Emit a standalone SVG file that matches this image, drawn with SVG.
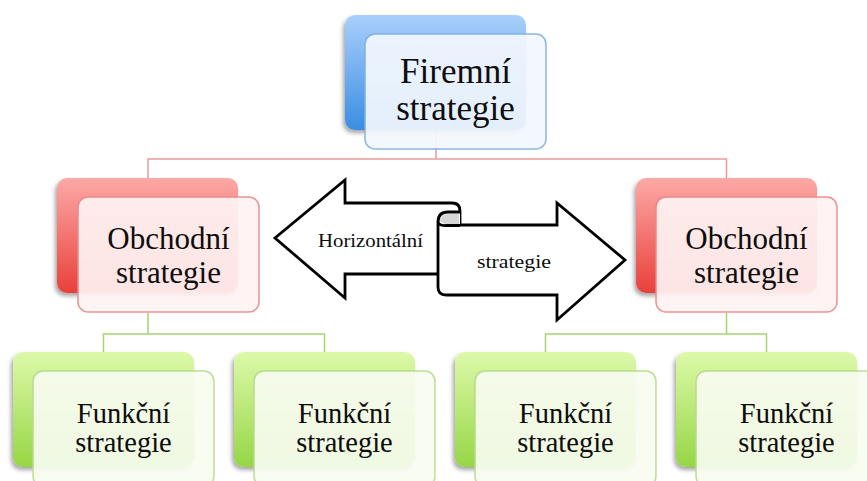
<svg xmlns="http://www.w3.org/2000/svg" width="867" height="481" viewBox="0 0 867 481">
<defs>
<linearGradient id="gBlue" x1="0" y1="0" x2="0" y2="1"><stop offset="0" stop-color="#a9cffc"/><stop offset="1" stop-color="#3b8de3"/></linearGradient>
<linearGradient id="gRed" x1="0" y1="0" x2="0" y2="1"><stop offset="0" stop-color="#fda9a7"/><stop offset="1" stop-color="#e9403a"/></linearGradient>
<linearGradient id="gGreen" x1="0" y1="0" x2="0" y2="1"><stop offset="0" stop-color="#ddf9a9"/><stop offset="1" stop-color="#96d645"/></linearGradient>
<filter id="sh" x="-20%" y="-20%" width="140%" height="140%"><feDropShadow dx="-2" dy="3" stdDeviation="2" flood-color="#000" flood-opacity="0.35"/></filter>
</defs>
<style>
.back{filter:url(#sh)}
.front{stroke-width:1.5;opacity:0.92}
.fb{fill:#f3f8fe;stroke:#80b0e2}
.fr{fill:#fff3f3;stroke:#e88a8a}
.fg{fill:#f8fcf0;stroke:#b5dc8a}
.t{font-family:"Liberation Serif","Times New Roman",serif;fill:#0d0d0d;text-anchor:middle}
.cr{stroke:#ec9a9a;stroke-width:1.5;fill:none}
.cg{stroke:#a8d46f;stroke-width:1.5;fill:none}
.ar{fill:#fff;stroke:#000;stroke-width:2.8;stroke-linejoin:miter}
</style>
<g id="connectors">
<path class="cr" d="M436 130V159M148 178V159H726.5V178"/>
<path class="cg" d="M148 313V334M103.5 352V334H324.5V352M726.5 313V334M545.5 352V334H766.5V352"/>
</g>
<g id="n-firemni">
<rect class="back" x="345" y="15" width="181" height="115" rx="10" fill="url(#gBlue)"/>
<rect class="front fb" x="365" y="34" width="181" height="115" rx="10"/>
<text class="t" font-size="35" x="455.5" y="83">Firemní</text>
<text class="t" font-size="35" x="455.5" y="120">strategie</text>
</g>
<g id="n-obch-l">
<rect class="back" x="57" y="178" width="181" height="115" rx="10" fill="url(#gRed)"/>
<rect class="front fr" x="78" y="197" width="181" height="115" rx="10"/>
<text class="t" font-size="31" x="168.5" y="249">Obchodní</text>
<text class="t" font-size="31" x="168.5" y="283">strategie</text>
</g>
<g id="n-obch-r">
<rect class="back" x="636" y="178" width="181" height="115" rx="10" fill="url(#gRed)"/>
<rect class="front fr" x="656" y="197" width="181" height="115" rx="10"/>
<text class="t" font-size="31" x="746.5" y="249">Obchodní</text>
<text class="t" font-size="31" x="746.5" y="283">strategie</text>
</g>
<g id="n-f1">
<rect class="back" x="13" y="352" width="181" height="115" rx="10" fill="url(#gGreen)"/>
<rect class="front fg" x="33" y="371" width="181" height="115" rx="10"/>
<text class="t" font-size="28.5" x="123.5" y="423">Funkční</text>
<text class="t" font-size="28.5" x="123.5" y="452">strategie</text>
</g>
<g id="n-f2">
<rect class="back" x="234" y="352" width="181" height="115" rx="10" fill="url(#gGreen)"/>
<rect class="front fg" x="254" y="371" width="181" height="115" rx="10"/>
<text class="t" font-size="28.5" x="344.5" y="423">Funkční</text>
<text class="t" font-size="28.5" x="344.5" y="452">strategie</text>
</g>
<g id="n-f3">
<rect class="back" x="455" y="352" width="181" height="115" rx="10" fill="url(#gGreen)"/>
<rect class="front fg" x="475" y="371" width="181" height="115" rx="10"/>
<text class="t" font-size="28.5" x="565.5" y="423">Funkční</text>
<text class="t" font-size="28.5" x="565.5" y="452">strategie</text>
</g>
<g id="n-f4">
<rect class="back" x="676" y="352" width="181" height="115" rx="10" fill="url(#gGreen)"/>
<rect class="front fg" x="696" y="371" width="181" height="115" rx="10"/>
<text class="t" font-size="28.5" x="786.5" y="423">Funkční</text>
<text class="t" font-size="28.5" x="786.5" y="452">strategie</text>
</g>
<g id="n-arrow">
<path class="ar" d="M440 274H345V298L275 238L345 180V203H452Q460 203 460 211V225"/>
<path class="ar" d="M460 225H557V203L625 260L557 320V295H446Q438 295 438 287V222Q438 212 448 212H460"/>
<path d="M440 222Q440 214 448 214H459V224H447Q442 224 441 221Z" fill="#d6d6d6"/>
<path d="M438 222Q439 226 446 225.5H460" fill="none" stroke="#000" stroke-width="2.8"/>
<text class="t" font-size="19" x="370.5" y="247" textLength="105" lengthAdjust="spacingAndGlyphs">Horizontální</text>
<text class="t" font-size="19" x="514" y="268" textLength="74" lengthAdjust="spacingAndGlyphs">strategie</text>
</g>
</svg>
